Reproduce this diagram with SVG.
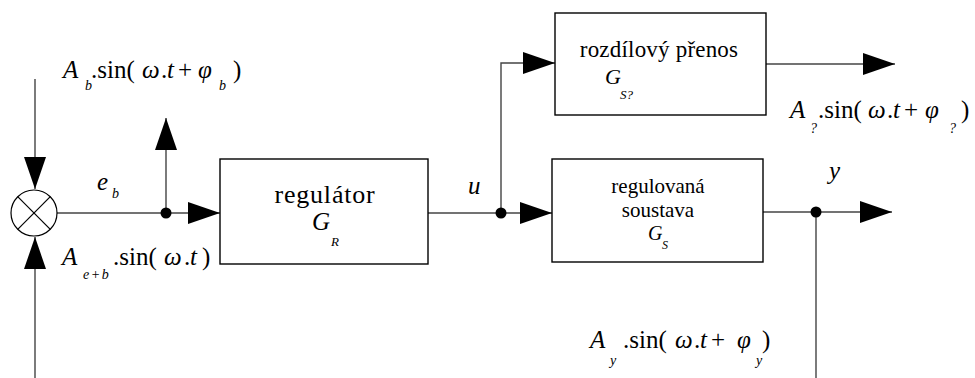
<svg xmlns="http://www.w3.org/2000/svg" width="975" height="378" viewBox="0 0 975 378">
<defs>
<marker id="ah" markerUnits="userSpaceOnUse" markerWidth="33" markerHeight="23" refX="32" refY="11" orient="auto">
<path d="M0,0 L32,11 L0,22 Z" fill="#000"/>
</marker>
<style>
.ln{fill:none;stroke:#444;stroke-width:1.4}
.bx{fill:#fff;stroke:#000;stroke-width:1.4}
.dot{fill:#000}
</style>
</defs>
<rect width="975" height="378" fill="#fff"/>

<g id="connectors">
<line class="ln" x1="35" y1="79" x2="35" y2="189" marker-end="url(#ah)"/>
<line class="ln" x1="35" y1="378" x2="35" y2="237" marker-end="url(#ah)"/>
<line class="ln" x1="57" y1="213" x2="220" y2="213" marker-end="url(#ah)"/>
<line class="ln" x1="166" y1="213" x2="166" y2="118" marker-end="url(#ah)"/>
<line class="ln" x1="428" y1="213" x2="552" y2="213" marker-end="url(#ah)"/>
<polyline class="ln" points="501,213 501,63 555,63" marker-end="url(#ah)"/>
<line class="ln" x1="766" y1="64" x2="895" y2="64" marker-end="url(#ah)"/>
<line class="ln" x1="763" y1="212" x2="892" y2="212" marker-end="url(#ah)"/>
<line class="ln" x1="816" y1="212" x2="816" y2="378"/>
<circle class="dot" cx="166" cy="213" r="5.5"/>
<circle class="dot" cx="501" cy="213" r="5.5"/>
<circle class="dot" cx="816" cy="212" r="5.5"/>
</g>

<g id="sum">
<circle cx="34" cy="213" r="23" fill="#fff" stroke="#000" stroke-width="1.2"/>
<line x1="17.7" y1="196.7" x2="50.3" y2="229.3" stroke="#000" stroke-width="1.2"/>
<line x1="50.3" y1="196.7" x2="17.7" y2="229.3" stroke="#000" stroke-width="1.2"/>
</g>

<g id="regulator">
<rect class="bx" x="220" y="159" width="208" height="105"/>
<text font-family="Liberation Serif" font-size="26" letter-spacing="0.8" x="325" y="203" text-anchor="middle">regulátor</text>
<text font-family="Liberation Serif" font-style="italic" font-size="25" x="312" y="230">G</text>
<text font-family="Liberation Serif" font-style="italic" font-size="13" x="331" y="246">R</text>
</g>

<g id="rozdilovy">
<rect class="bx" x="555" y="13" width="211" height="102"/>
<text font-family="Liberation Serif" font-size="23" letter-spacing="0.2" x="659" y="57" text-anchor="middle">rozdílový přenos</text>
<text font-family="Liberation Serif" font-style="italic" font-size="22" x="605" y="84">G</text>
<text font-family="Liberation Serif" font-style="italic" font-size="13" x="620" y="99">S?</text>
</g>

<g id="soustava">
<rect class="bx" x="552" y="159" width="211" height="103"/>
<text font-family="Liberation Serif" font-size="21" x="658" y="193" text-anchor="middle">regulovaná</text>
<text font-family="Liberation Serif" font-size="21" x="658" y="217" text-anchor="middle">soustava</text>
<text font-family="Liberation Serif" font-style="italic" font-size="20" x="648" y="240">G</text>
<text font-family="Liberation Serif" font-style="italic" font-size="12" x="662" y="249">S</text>
</g>

<g id="labels">
<text font-family="Liberation Serif" font-size="25" font-style="italic" x="97" y="190">e</text>
<text font-family="Liberation Serif" font-size="14" font-style="italic" x="112" y="198">b</text>
<text font-family="Liberation Serif" font-size="25" font-style="italic" x="468" y="194">u</text>
<text font-family="Liberation Serif" font-size="25" font-style="italic" x="829" y="179">y</text>

<text font-family="Liberation Serif" font-size="25"><tspan font-style="italic" x="63" y="78">A</tspan><tspan font-size="14" font-style="italic" x="85" y="90">b</tspan><tspan x="91" y="78">.sin(</tspan><tspan font-style="italic" x="142" y="78">ω</tspan><tspan x="161" y="78">.</tspan><tspan font-style="italic" x="167" y="78">t</tspan><tspan x="178" y="78">+</tspan><tspan font-style="italic" x="198" y="78">φ</tspan><tspan font-size="14" font-style="italic" x="219" y="90">b</tspan><tspan x="233" y="78">)</tspan></text>

<text font-family="Liberation Serif" font-size="25"><tspan font-style="italic" x="62" y="265">A</tspan><tspan font-size="14" font-style="italic" x="83" y="279" letter-spacing="1.5">e+b</tspan><tspan x="113" y="265">.sin(</tspan><tspan font-style="italic" x="164" y="265">ω</tspan><tspan x="184" y="265">.</tspan><tspan font-style="italic" x="190" y="265">t</tspan><tspan x="202" y="265">)</tspan></text>

<text font-family="Liberation Serif" font-size="25"><tspan font-style="italic" x="790" y="118">A</tspan><tspan font-size="14" font-style="italic" x="810" y="133">?</tspan><tspan x="818" y="118">.sin(</tspan><tspan font-style="italic" x="868" y="118">ω</tspan><tspan x="887" y="118">.</tspan><tspan font-style="italic" x="893" y="118">t</tspan><tspan x="904" y="118">+</tspan><tspan font-style="italic" x="925" y="118">φ</tspan><tspan font-size="14" font-style="italic" x="949" y="133">?</tspan><tspan x="961" y="118">)</tspan></text>

<text font-family="Liberation Serif" font-size="25"><tspan font-style="italic" x="590" y="348">A</tspan><tspan font-size="14" font-style="italic" x="610" y="365">y</tspan><tspan x="623" y="348">.sin(</tspan><tspan font-style="italic" x="675" y="348">ω</tspan><tspan x="694" y="348">.</tspan><tspan font-style="italic" x="700" y="348">t</tspan><tspan x="711" y="348">+</tspan><tspan font-style="italic" x="737" y="348">φ</tspan><tspan font-size="14" font-style="italic" x="756" y="365">y</tspan><tspan x="762" y="348">)</tspan></text>
</g>
</svg>
